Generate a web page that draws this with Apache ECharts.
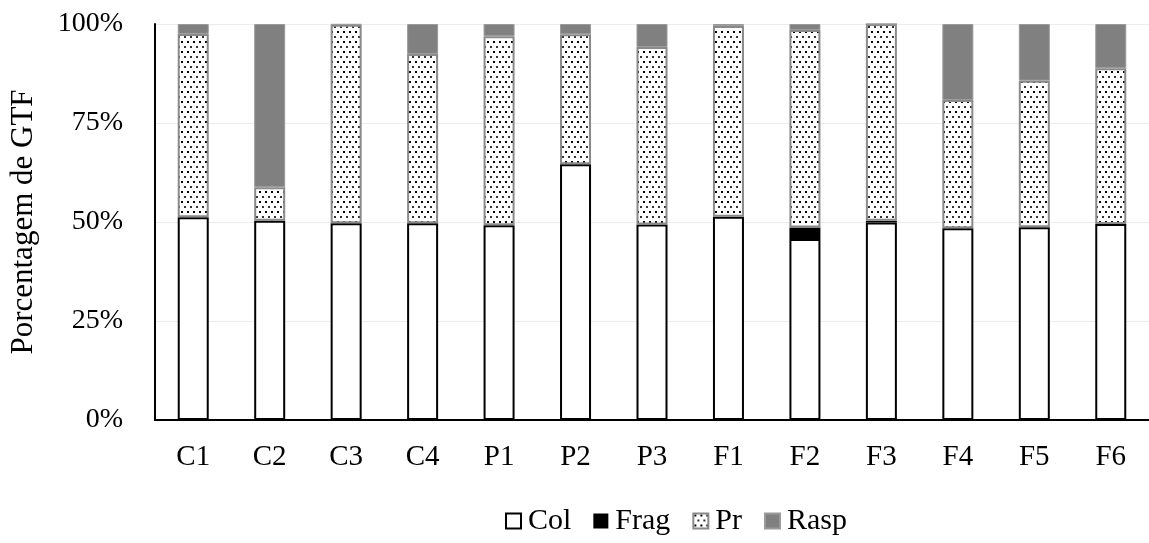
<!DOCTYPE html>
<html>
<head>
<meta charset="utf-8">
<script src="https://cdn.jsdelivr.net/npm/echarts@6/dist/echarts.min.js"></script>
<style>
  html, body { margin: 0; padding: 0; background: #fff; }
  #chart { width: 1149px; height: 543px; }
</style>
</head>
<body>
<div id="chart"></div>
<script>
// Sites
const categories = ['C1', 'C2', 'C3', 'C4', 'P1', 'P2', 'P3', 'F1', 'F2', 'F3', 'F4', 'F5', 'F6'];
// Share of each functional trophic group (%)
const col  = [51.2, 50.3, 49.7, 49.7, 49.2, 64.6, 49.4, 51.3, 45.7, 49.9, 48.4, 48.7, 49.5];
const frag = [0, 0, 0, 0, 0, 0, 0, 0, 2.9, 0.4, 0, 0, 0];
const pr   = [46.3, 8.5, 50.1, 42.7, 47.7, 32.8, 44.8, 48.2, 49.9, 49.7, 32.4, 37.0, 39.3];
const rasp = [2.5, 41.2, 0.2, 7.6, 3.1, 2.6, 5.8, 0.5, 1.5, 0, 19.2, 14.3, 11.2];
const yTicks = [0, 25, 50, 75, 100];

// Dotted fill for the "Pr" group
function dotPattern() {
  const c = document.createElement('canvas');
  c.width = 6; c.height = 10;
  const g = c.getContext('2d');
  g.fillStyle = '#fff';
  g.fillRect(0, 0, 6, 10);
  g.fillStyle = '#000';
  g.fillRect(1, 1, 2, 2);
  g.fillStyle = '#333';
  g.fillRect(4, 6, 2, 2);
  return c;
}
const prFill = { image: dotPattern(), repeat: 'repeat' };

const font = 'Liberation Serif, Times New Roman, serif';
const chart = echarts.init(document.getElementById('chart'), null, { renderer: 'canvas' });

const barW = 31;
chart.setOption({
  animation: false,
  backgroundColor: '#fff',
  textStyle: { fontFamily: font, color: '#000' },
  grid: { left: 153, top: 24, width: 1000, height: 396 },
  legend: {
    bottom: 2,
    left: 500,
    icon: 'rect',
    itemWidth: 15,
    itemHeight: 15,
    itemGap: 22,
    textStyle: { fontFamily: font, fontSize: 30, color: '#000', padding: [0, 0, 0, 2] },
    data: ['Col', 'Frag', 'Pr', 'Rasp']
  },
  xAxis: {
    type: 'category',
    data: categories,
    axisLine: { lineStyle: { color: '#000', width: 2 } },
    axisTick: { show: false },
    axisLabel: { fontFamily: font, fontSize: 29, color: '#000', margin: 23 }
  },
  yAxis: {
    type: 'value',
    min: yTicks[0],
    max: yTicks[yTicks.length - 1],
    interval: 25,
    name: 'Porcentagem de GTF',
    nameLocation: 'middle',
    nameGap: 116,
    nameTextStyle: { fontFamily: font, fontSize: 31, color: '#000' },
    axisLine: { show: true, lineStyle: { color: '#000', width: 2 } },
    axisTick: { show: false },
    axisLabel: { fontFamily: font, fontSize: 28, color: '#000', margin: 32, formatter: '{value}%' },
    splitLine: { lineStyle: { color: '#ececec', width: 1 } }
  },
  series: [
    {
      name: 'Col', type: 'bar', stack: 'gtf', barWidth: barW, data: col,
      itemStyle: { color: '#fff', borderColor: '#000', borderWidth: 2 }
    },
    {
      name: 'Frag', type: 'bar', stack: 'gtf', barWidth: barW, data: frag,
      itemStyle: { color: '#000', borderColor: '#000', borderWidth: 0 }
    },
    {
      name: 'Pr', type: 'bar', stack: 'gtf', barWidth: barW, data: pr,
      itemStyle: { color: prFill, borderColor: '#8a8a8a', borderWidth: 2 }
    },
    {
      name: 'Rasp', type: 'bar', stack: 'gtf', barWidth: barW, data: rasp,
      itemStyle: { color: '#808080', borderColor: '#9a9a9a', borderWidth: 1 }
    }
  ]
});
</script>
</body>
</html>
